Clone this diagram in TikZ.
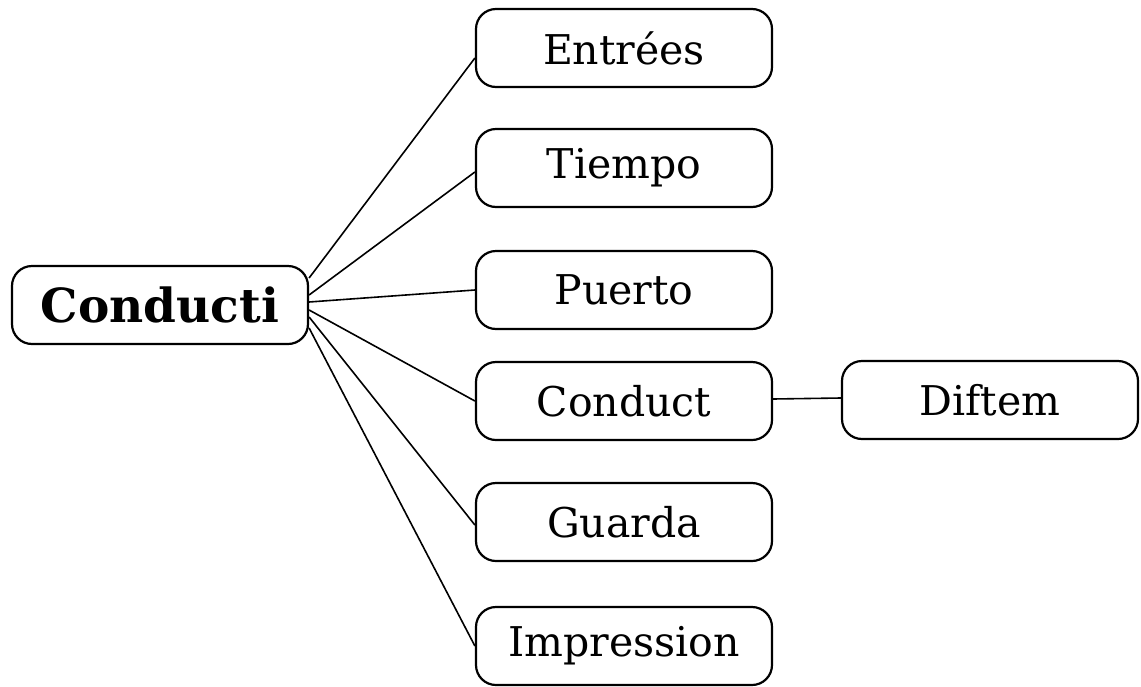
\documentclass[tikz,border=0pt]{standalone}
\usepackage{fontspec}
\setmainfont{DejaVu Serif}
\begin{document}
\begin{tikzpicture}[x=1pt,y=-1pt,
  box/.style={draw, line width=2.2pt, rounded corners=20pt, minimum width=296pt, minimum height=78pt, inner sep=0pt, font=\fontsize{41}{43}\selectfont},
  rootbox/.style={box, font=\bfseries\fontsize{47}{50}\selectfont},
  link/.style={line width=1.6pt}]
\useasboundingbox (0,0) rectangle (1141,686);
\node[rootbox] (root) at (160,305) {Conducti};
\node[box] (e) at (624,48) {Entrées};
\node[box] (t) at (624,168) {Tiempo};
\node[box] (p) at (624,290) {Puerto};
\node[box] (c) at (624,401) {Conduct};
\node[box] (g) at (624,522) {Guarda};
\node[box] (i) at (624,646) {Impression};
\node[box] (d) at (990,400) {Diftem};
\draw[link] ([yshift=27pt]root.east) -- ([yshift=-10pt]e.west);
\draw[link] ([yshift=10pt]root.east) -- ([yshift=-4pt]t.west);
\draw[link] ([yshift=3pt]root.east) -- (p.west);
\draw[link] ([yshift=-5pt]root.east) -- (c.west);
\draw[link] ([yshift=-12pt]root.east) -- ([yshift=-3pt]g.west);
\draw[link] ([yshift=-23pt]root.east) -- (i.west);
\draw[link] ([yshift=2pt]c.east) -- ([yshift=2pt]d.west);
\end{tikzpicture}
\end{document}
